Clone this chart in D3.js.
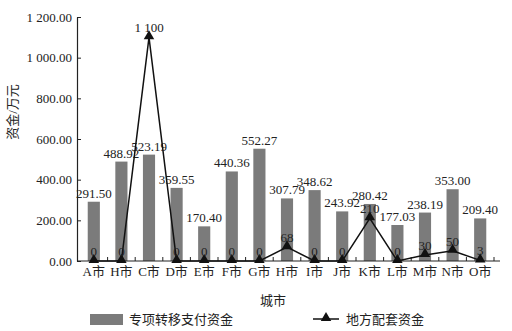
<!DOCTYPE html>
<html>
<head>
<meta charset="utf-8">
<script src="https://cdn.jsdelivr.net/npm/d3@7"></script>
<style>
  body { margin: 0; background: #fff; }
  svg text { font-family: "Liberation Serif", "Noto Sans CJK SC", serif; fill: #222; }
</style>
</head>
<body>
<div id="chart"></div>
<script>
"use strict"

// data
const cities = ["A市", "H市", "C市", "D市", "E市", "F市", "G市", "H市",
                "I市", "J市", "K市", "L市", "M市", "N市", "O市"];
const transferFunds = [291.50, 488.92, 523.19, 359.55, 170.40, 440.36, 552.27,
                       307.79, 348.62, 243.92, 280.42, 177.03, 238.19, 353.00, 209.40];
const localFunds = [0, 0, 1100, 0, 0, 0, 0, 68, 0, 0, 210, 0, 30, 50, 3];
const yTicks = [0, 200, 400, 600, 800, 1000, 1200];
const seriesNames = ["专项转移支付资金", "地方配套资金"];

const W = 512, H = 331;
const axisLeft = 77, axisRight = 500;

const locale = d3.formatLocale({decimal: ".", thousands: " ", grouping: [3], currency: ["", ""]});
const fmtTick = locale.format(",.2f");
const fmtLine = locale.format(",d");

const svg = d3.select("#chart").append("svg")
    .attr("width", W).attr("height", H);

const x = d3.scaleBand()
    .domain(d3.range(cities.length))
    .range([80, 494])
    .paddingInner(0.56)
    .paddingOuter(0.28);
const step = x.step();

const y = d3.scaleLinear()
    .domain([0, 1200])
    .range([261, 17]);

// bars
svg.append("g").selectAll("rect")
    .data(transferFunds)
    .enter().append("rect")
    .attr("x", (d, i) => x(i))
    .attr("y", (d) => y(d))
    .attr("width", x.bandwidth())
    .attr("height", (d) => y(0) - y(d))
    .attr("fill", "#7b7b7b");

// y axis
const yAxis = svg.append("g")
    .attr("transform", `translate(${axisLeft},0)`)
    .call(d3.axisLeft(y).tickValues(yTicks).tickFormat(fmtTick)
        .tickSizeInner(-4).tickSizeOuter(0).tickPadding(5));
yAxis.select(".domain").attr("stroke", "#222").attr("stroke-width", 1.2);
yAxis.selectAll(".tick line").attr("stroke", "#222");
yAxis.selectAll("text").attr("font-size", 13)
    .style("font-family", "'Liberation Serif', serif").attr("fill", "#222");

// x axis line and boundary ticks
svg.append("line")
    .attr("x1", axisLeft).attr("x2", axisRight)
    .attr("y1", y(0)).attr("y2", y(0))
    .attr("stroke", "#222").attr("stroke-width", 1.2);
svg.append("g").selectAll("line")
    .data(d3.range(1, cities.length + 1))
    .enter().append("line")
    .attr("x1", (i) => x(i - 1) + x.bandwidth() / 2 + step / 2)
    .attr("x2", (i) => x(i - 1) + x.bandwidth() / 2 + step / 2)
    .attr("y1", y(0)).attr("y2", y(0) - 4)
    .attr("stroke", "#222");

svg.append("g").selectAll("text")
    .data(cities)
    .enter().append("text")
    .attr("x", (d, i) => x(i) + x.bandwidth() / 2)
    .attr("y", 276)
    .attr("text-anchor", "middle")
    .attr("font-size", 13)
    .text((d) => d);

// bar value labels
svg.append("g").selectAll("text")
    .data(transferFunds)
    .enter().append("text")
    .attr("x", (d, i) => x(i) + x.bandwidth() / 2)
    .attr("y", (d) => y(d) - 4)
    .attr("text-anchor", "middle")
    .attr("font-size", 13)
    .text((d) => d.toFixed(2));

// line series
const cx = (i) => x(i) + x.bandwidth() / 2;
const line = d3.line()
    .x((d, i) => cx(i))
    .y((d) => y(d));
svg.append("path")
    .datum(localFunds)
    .attr("d", line)
    .attr("fill", "none")
    .attr("stroke", "#111")
    .attr("stroke-width", 1.5);

const tri = d3.symbol().type(d3.symbolTriangle).size(48);
svg.append("g").selectAll("path")
    .data(localFunds)
    .enter().append("path")
    .attr("d", tri)
    .attr("transform", (d, i) => `translate(${cx(i)},${y(d) - 1})`)
    .attr("fill", "#111");

svg.append("g").selectAll("text")
    .data(localFunds)
    .enter().append("text")
    .attr("x", (d, i) => cx(i))
    .attr("y", (d) => y(d) - 5)
    .attr("text-anchor", "middle")
    .attr("font-size", 13)
    .text((d) => fmtLine(d));

// axis titles
svg.append("text")
    .attr("x", 273).attr("y", 305)
    .attr("text-anchor", "middle")
    .attr("font-size", 13)
    .text("城市");
svg.append("text")
    .attr("transform", "translate(17,112) rotate(-90)")
    .attr("text-anchor", "middle")
    .attr("font-size", 13)
    .text("资金/万元");

// legend
const legend = svg.append("g");
legend.append("rect")
    .attr("x", 90).attr("y", 314)
    .attr("width", 33).attr("height", 11)
    .attr("fill", "#7b7b7b");
legend.append("text")
    .attr("x", 129).attr("y", 324)
    .attr("font-size", 13)
    .text(seriesNames[0]);
legend.append("line")
    .attr("x1", 313).attr("x2", 339)
    .attr("y1", 319).attr("y2", 319)
    .attr("stroke", "#111").attr("stroke-width", 1.5);
legend.append("path")
    .attr("d", tri)
    .attr("transform", "translate(326,318)")
    .attr("fill", "#111");
legend.append("text")
    .attr("x", 346).attr("y", 324)
    .attr("font-size", 13)
    .text(seriesNames[1]);
</script>
</body>
</html>
